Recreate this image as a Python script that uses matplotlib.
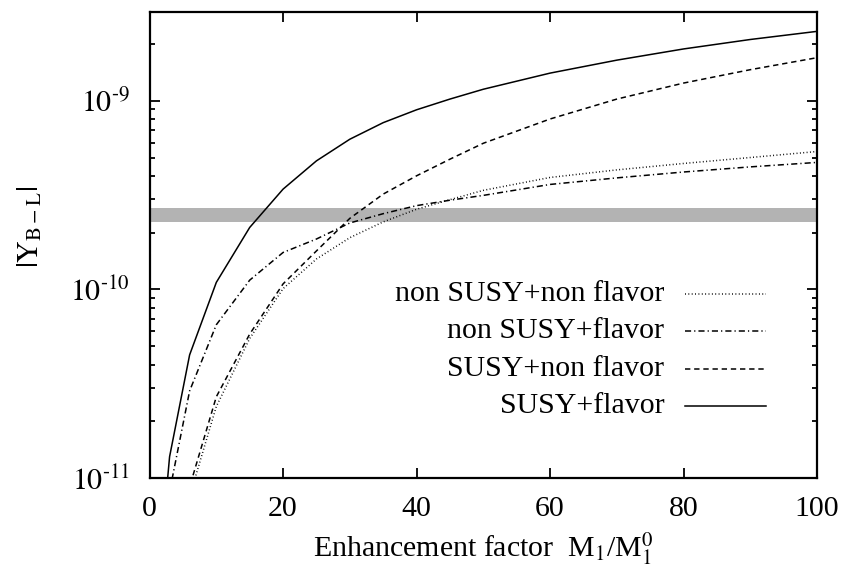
import numpy as np
import matplotlib.pyplot as plt
from matplotlib.ticker import LogLocator, FixedLocator, FuncFormatter, NullFormatter

plt.rcParams['font.family'] = ['Liberation Serif', 'DejaVu Serif']
plt.rcParams['mathtext.fontset'] = 'stix'

# Enhancement factor M1/M1^0
x = [2, 3, 6, 10, 15, 20, 25, 30, 35, 40, 45, 50, 60, 70, 80, 90, 100]

# |Y_{B-L}| for each scenario
susy_flavor = [5.3e-12, 1.3e-11, 4.5e-11, 1.09e-10, 2.13e-10, 3.40e-10, 4.8e-10,
               6.25e-10, 7.65e-10, 8.95e-10, 1.02e-9, 1.15e-9, 1.40e-9, 1.64e-9,
               1.88e-9, 2.11e-9, 2.33e-9]
susy_nonflavor = [1.5e-12, 3.5e-12, 9e-12, 2.7e-11, 5.8e-11, 1.07e-10, 1.6e-10,
                  2.38e-10, 3.2e-10, 4.0e-10, 4.9e-10, 5.95e-10, 8.0e-10, 1.02e-9,
                  1.24e-9, 1.46e-9, 1.69e-9]
nonsusy_flavor = [3.0e-12, 8.5e-12, 2.9e-11, 6.5e-11, 1.12e-10, 1.57e-10, 1.85e-10,
                  2.25e-10, 2.52e-10, 2.78e-10, 2.97e-10, 3.15e-10, 3.60e-10,
                  3.90e-10, 4.19e-10, 4.46e-10, 4.71e-10]
nonsusy_nonflavor = [1.3e-12, 3.0e-12, 8e-12, 2.4e-11, 5.5e-11, 1.01e-10, 1.45e-10,
                     1.88e-10, 2.28e-10, 2.66e-10, 2.99e-10, 3.35e-10, 3.92e-10,
                     4.30e-10, 4.65e-10, 5.0e-10, 5.38e-10]

# observed baryon asymmetry band
obs_low, obs_high = 2.27e-10, 2.70e-10

x_ticks = [0, 20, 40, 60, 80, 100]
y_ticks = [1e-11, 1e-10, 1e-9]

labels = ['non SUSY+non flavor', 'non SUSY+flavor', 'SUSY+non flavor', 'SUSY+flavor']
series = [nonsusy_nonflavor, nonsusy_flavor, susy_nonflavor, susy_flavor]
styles = [(0, (0.6, 1.6)), (0, (4, 2, 0.8, 2)), (0, (3.5, 2.5)), '-']

fs = 21.5


def pow10_label(v, pos):
    # plain hyphen in the exponent
    return r'$10^{\text{-}%d}$' % round(-np.log10(v))


fig = plt.figure(figsize=(8.45, 5.72), dpi=100)
ax = fig.add_axes([0.177, 0.164, 0.790, 0.815])

ax.axhspan(obs_low, obs_high, color='#b3b3b3', lw=0, zorder=1)

for y, ls in zip(series, styles):
    ax.plot(x, y, color='black', lw=1.1, linestyle=ls, zorder=3)

ax.set_yscale('log')
ax.set_xlim(0, 100)
ax.set_ylim(1e-11, 2.95e-9)
ax.set_xticks(x_ticks)
ax.yaxis.set_major_locator(FixedLocator(y_ticks))
ax.yaxis.set_major_formatter(FuncFormatter(pow10_label))
ax.yaxis.set_minor_locator(LogLocator(base=10, subs=np.arange(2, 10), numticks=20))
ax.yaxis.set_minor_formatter(NullFormatter())

ax.tick_params(which='both', direction='in', top=True, right=True, width=1.3,
               labelsize=fs)
ax.tick_params(axis='x', pad=13)
ax.tick_params(axis='y', pad=14)
ax.tick_params(which='major', length=7)
ax.tick_params(which='minor', length=3.5)
for s in ax.spines.values():
    s.set_linewidth(1.6)

ax.set_xlabel(r'Enhancement factor  M$_1$/M$_1^0$', fontsize=fs, labelpad=6)
ax.set_ylabel(r'$|\mathrm{Y}_{\mathrm{B-L}}|$', fontsize=fs)
ax.yaxis.set_label_coords(-0.158, 0.54)

# key: text right-aligned, line sample to the right
key_y = [0.396, 0.316, 0.235, 0.155]
for lab, ls, ky in zip(labels, styles, key_y):
    ax.text(0.771, ky, lab, transform=ax.transAxes, ha='right', va='center',
            fontsize=fs, zorder=4)
    ax.plot([0.802, 0.923], [ky, ky], transform=ax.transAxes, color='black',
            lw=1.1, linestyle=ls, zorder=4)

fig.savefig('out.png', dpi=100)
